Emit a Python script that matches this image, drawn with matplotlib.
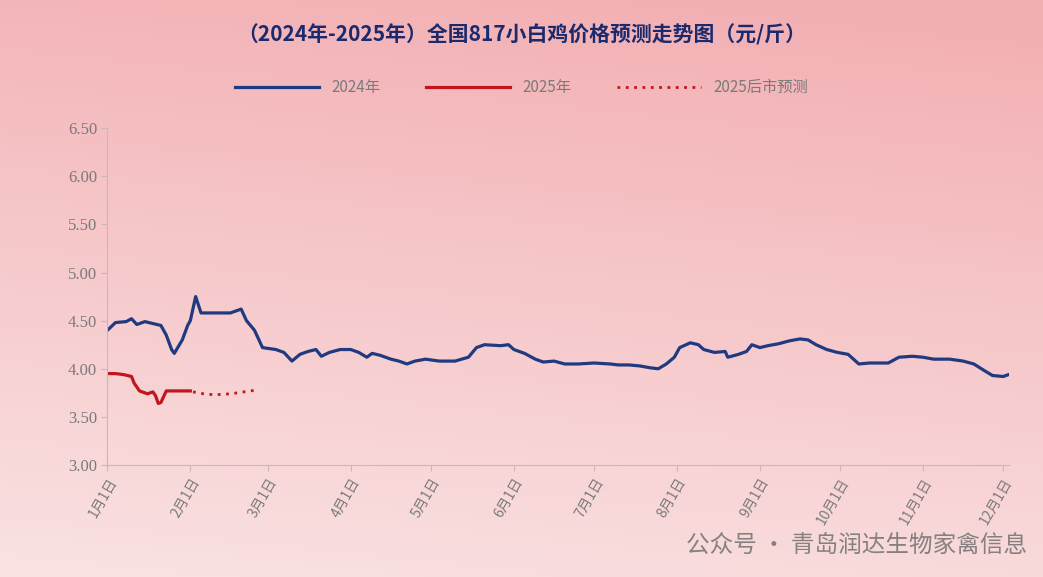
import numpy as np
import matplotlib.pyplot as plt

plt.rcParams['font.family'] = ['Noto Sans CJK SC', 'DejaVu Sans']

# 2024 price (day of year -> yuan/jin)
days_2024 = [0, 3, 7, 9, 11, 14, 17, 20, 22, 24, 25, 28, 30, 31, 33, 35, 46, 50, 52, 55, 58, 63, 66, 69, 72,
             75, 78, 80, 83, 87, 91, 94, 97, 99, 102, 106, 109, 112, 115, 119, 124, 130, 135, 138, 141, 147,
             150, 152, 156, 160, 163, 167, 171, 176, 182, 188, 191, 195, 199, 203, 206, 209, 212, 214, 218,
             221, 223, 227, 231, 232, 236, 239, 241, 244, 247, 251, 255, 259, 262, 265, 269, 273, 277, 281,
             285, 292, 296, 301, 305, 309, 315, 320, 324, 328, 331, 335, 338]
price_2024 = [4.40, 4.48, 4.49, 4.52, 4.46, 4.49, 4.47, 4.45, 4.35, 4.20, 4.16, 4.30, 4.45, 4.50, 4.75, 4.58,
              4.58, 4.62, 4.50, 4.40, 4.22, 4.20, 4.17, 4.08, 4.15, 4.18, 4.20, 4.13, 4.17, 4.20, 4.20, 4.17,
              4.12, 4.16, 4.14, 4.10, 4.08, 4.05, 4.08, 4.10, 4.08, 4.08, 4.12, 4.22, 4.25, 4.24, 4.25, 4.20,
              4.16, 4.10, 4.07, 4.08, 4.05, 4.05, 4.06, 4.05, 4.04, 4.04, 4.03, 4.01, 4.00, 4.05, 4.12, 4.22,
              4.27, 4.25, 4.20, 4.17, 4.18, 4.12, 4.15, 4.18, 4.25, 4.22, 4.24, 4.26, 4.29, 4.31, 4.30, 4.25,
              4.20, 4.17, 4.15, 4.05, 4.06, 4.06, 4.12, 4.13, 4.12, 4.10, 4.10, 4.08, 4.05, 3.98, 3.93, 3.92, 3.95]

days_2025 = [0, 3, 6, 9, 10, 12, 15, 17, 18, 19, 20, 22, 25, 31]
price_2025 = [3.95, 3.95, 3.94, 3.92, 3.85, 3.77, 3.74, 3.76, 3.72, 3.64, 3.65, 3.77, 3.77, 3.77]

days_fc = [32, 36, 40, 46, 51, 56]
price_fc = [3.76, 3.74, 3.73, 3.74, 3.76, 3.78]

tick_days = [0, 31, 60, 91, 121, 152, 182, 213, 244, 274, 305, 335]
tick_labels = ['%d月1日' % m for m in range(1, 13)]

fig = plt.figure(figsize=(10.43, 5.77), dpi=100)

# pink gradient background
bg = fig.add_axes([0, 0, 1, 1], zorder=-10)
g = np.linspace(0, 1, 256)[:, None] * np.ones((1, 256))
gx = np.linspace(0, 1, 256)[None, :]
top = np.array([243, 176, 180]) / 255
bot = np.array([251, 232, 232]) / 255
mix = np.clip(0.1 + g * 0.8 + gx * 0.15, 0, 1)[..., None]
img = bot * (1 - mix) + top * mix
bg.imshow(img, aspect='auto', origin='lower', extent=[0, 1, 0, 1])
bg.axis('off')

ax = fig.add_axes([0.103, 0.194, 0.864, 0.584])
ax.patch.set_alpha(0)
ax.plot(days_2024, price_2024, color='#1f3a80', lw=2.3, label='2024年')
ax.plot(days_2025, price_2025, color='#c0161c', lw=2.3, label='2025年')
ax.plot(days_fc, price_fc, color='#c0161c', lw=2, ls=(0, (1, 2)), label='2025后市预测')

ax.set_xlim(0, 337)
ax.set_ylim(3.0, 6.5)
ax.tick_params(colors='#c8b8ba', length=4, labelcolor='#7a7a7a')
ax.set_yticks(np.arange(3.0, 6.51, 0.5))
ax.set_yticklabels(['%.2f' % v for v in np.arange(3.0, 6.51, 0.5)], fontsize=12,
                   family='Liberation Serif')
ax.set_xticks(tick_days)
ax.set_xticklabels(tick_labels, rotation=60, fontsize=10, ha='right',
                   rotation_mode='anchor', style='italic')
for s in ['top', 'right']:
    ax.spines[s].set_visible(False)
for s in ['left', 'bottom']:
    ax.spines[s].set_color('#c8b8ba')

fig.text(0.5, 0.94, '（2024年-2025年）全国817小白鸡价格预测走势图（元/斤）', ha='center', va='center',
         fontsize=15, fontweight='bold', color='#1a2a6c')
fig.legend(loc='center', bbox_to_anchor=(0.5, 0.848), ncol=3, frameon=False, fontsize=11,
           labelcolor='#7a7a7a', handlelength=5.5, columnspacing=3)
fig.text(0.985, 0.055, '公众号 · 青岛润达生物家禽信息', ha='right', va='center', fontsize=17,
         color='#6a6a6a', alpha=0.8)

fig.savefig('out.png')
